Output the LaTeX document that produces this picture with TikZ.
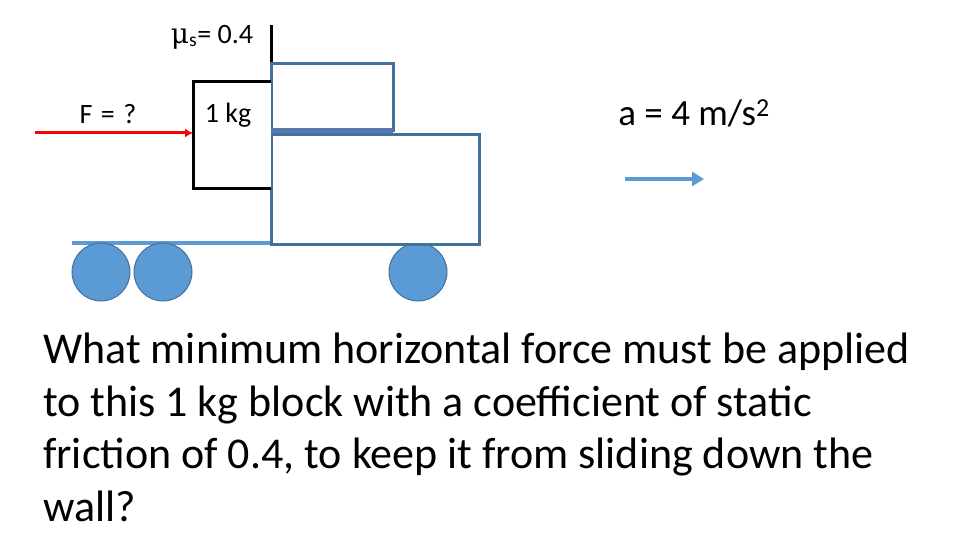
\documentclass[tikz,border=0pt]{standalone}
\usepackage{fontspec}
\usetikzlibrary{arrows.meta}
\setmainfont{Carlito}
\newfontfamily\dv{DejaVu Serif}
\begin{document}
\begin{tikzpicture}[x=1pt,y=-1pt,
  truck/.style={draw=steel,line width=3pt,fill=white},
  wheel/.style={draw=steel,line width=1pt,fill=lblue},
  lbl/.style={inner sep=0pt,font=\fontsize{28}{30}\selectfont}]
\definecolor{steel}{HTML}{41719C}
\definecolor{lblue}{HTML}{5B9BD5}
\definecolor{dblue}{HTML}{2F5597}
\useasboundingbox (0,0) rectangle (960,540);
% platform
\draw[draw=lblue,line width=4pt] (72,243) -- (272,243) coordinate (pr);
% wheels
\node[wheel,circle,minimum size=58pt,inner sep=0pt] (w1) at (101,272) {};
\node[wheel,circle,minimum size=58pt,inner sep=0pt] (w2) at (163,272) {};
\node[wheel,circle,minimum size=58pt,inner sep=0pt] (w3) at (418,272) {};
% wall line
\coordinate (wt) at (271,25);
\coordinate (wb) at (271,82);
\draw[line width=3pt] (wt) -- (wb);
% boxes
\draw[truck] (271,64) rectangle (393,131);
\draw[truck] (271,135) rectangle (479,244);
\draw[dblue!80,line width=5pt] (271,131) -- (393,131);
% block
\draw[line width=3pt,fill=white] (271,82) -- (193,82) -- (193,188) -- (271,188);
\node[lbl] (kg) at (228,115) {1 kg};
\node[lbl] (F) at (108,114) {F\hspace{0.3em}=\hspace{0.3em}?};
\node[lbl] (mu) at (212,37) {{\dv μ}\textsubscript{s}= 0.4};
% red arrow
\coordinate (rs) at (35,133);
\coordinate (re) at (193,133);
\draw[red,line width=3pt,-{Latex[length=8pt,width=9pt]}] (rs) -- (re);
% acceleration
\node[lbl,font=\fontsize{37}{40}\selectfont] (a) at (694,113) {a = 4 m/s\textsuperscript{2}};
\coordinate (as) at (625,179);
\coordinate (ae) at (704,179);
\draw[lblue,line width=4pt,-{Triangle[length=12pt,width=14pt]}] (as) -- (ae);
% question
\node[anchor=north west,align=left,inner sep=0pt,font=\fontsize{44}{52.5}\selectfont] (q) at (43,333)
{What minimum horizontal force must be applied\\to this 1 kg block with a coefficient of static\\friction of 0.4, to keep it from sliding down the\\wall?};
\end{tikzpicture}
\end{document}
